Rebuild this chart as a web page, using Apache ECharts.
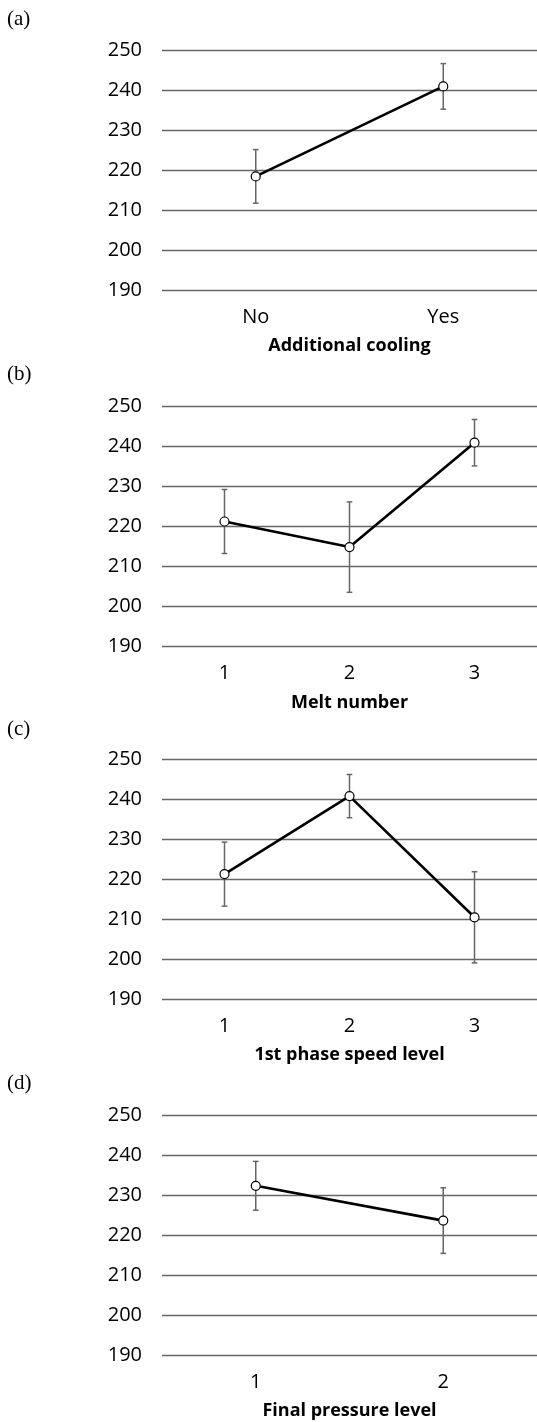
<!DOCTYPE html>
<html>
<head>
<meta charset="utf-8">
<script src="https://cdn.jsdelivr.net/npm/echarts@6/dist/echarts.min.js"></script>
<style>
  html, body { margin: 0; padding: 0; background: #fff; }
  #chart { width: 537px; height: 1422px; }
</style>
</head>
<body>
<div id="chart"></div>
<script>
// panel (a)
const catsA = ['No', 'Yes'];
const meanA = [218.4, 240.9];
const errA = [6.7, 5.7];
// panel (b)
const catsB = ['1', '2', '3'];
const meanB = [221.3, 214.9, 241.0];
const errB = [8.0, 11.3, 5.8];
// panel (c)
const catsC = ['1', '2', '3'];
const meanC = [221.3, 240.8, 210.5];
const errC = [8.0, 5.4, 11.4];
// panel (d)
const catsD = ['1', '2'];
const meanD = [232.3, 223.6];
const errD = [6.1, 8.2];

const panelLabels = ['(a)', '(b)', '(c)', '(d)'];
const axisNames = ['Additional cooling', 'Melt number', '1st phase speed level', 'Final pressure level'];

const panels = [
  { cats: catsA, mean: meanA, err: errA },
  { cats: catsB, mean: meanB, err: errB },
  { cats: catsC, mean: meanC, err: errC },
  { cats: catsD, mean: meanD, err: errD },
];

const gridTops = [50, 406.7, 759.3, 1115];
const labelTops = [9, 364, 719, 1073];
const font = '"Open Sans", "Noto Sans", sans-serif';

const grids = [], xAxes = [], yAxes = [], series = [], graphics = [];

panels.forEach((p, i) => {
  grids.push({ left: 162, width: 380, top: gridTops[i], height: 240 });
  xAxes.push({
    type: 'category',
    gridIndex: i,
    data: p.cats,
    boundaryGap: true,
    axisLine: { show: false },
    axisTick: { show: false },
    axisLabel: { color: '#000', fontFamily: font, fontSize: 20, margin: 17 },
    name: axisNames[i],
    nameLocation: 'middle',
    nameGap: 47,
    nameTextStyle: { color: '#000', fontFamily: font, fontSize: 18, fontWeight: 'bold' },
  });
  yAxes.push({
    type: 'value',
    gridIndex: i,
    min: 190,
    max: 250,
    interval: 10,
    axisLine: { show: false },
    axisTick: { show: false },
    axisLabel: { color: '#000', fontFamily: font, fontSize: 20, margin: 20 },
    splitLine: { lineStyle: { color: '#666', width: 1.3 } },
  });
  const errData = p.mean.map((m, k) => [k, m - p.err[k], m + p.err[k]]);
  series.push({
    type: 'custom',
    xAxisIndex: i,
    yAxisIndex: i,
    data: errData,
    z: 2,
    renderItem: (params, api) => {
      const lo = api.coord([api.value(0), api.value(1)]);
      const hi = api.coord([api.value(0), api.value(2)]);
      const cap = 2.8;
      const style = { stroke: '#666', lineWidth: 1.5 };
      return {
        type: 'group',
        children: [
          { type: 'line', shape: { x1: lo[0], y1: lo[1], x2: hi[0], y2: hi[1] }, style },
          { type: 'line', shape: { x1: lo[0] - cap, y1: lo[1], x2: lo[0] + cap, y2: lo[1] }, style },
          { type: 'line', shape: { x1: hi[0] - cap, y1: hi[1], x2: hi[0] + cap, y2: hi[1] }, style },
        ],
      };
    },
  });
  series.push({
    type: 'line',
    xAxisIndex: i,
    yAxisIndex: i,
    data: p.mean,
    z: 3,
    symbol: 'circle',
    symbolSize: 9,
    showSymbol: true,
    lineStyle: { color: '#000', width: 2.6 },
    itemStyle: { color: '#fff', borderColor: '#000', borderWidth: 1.2 },
  });
  graphics.push({
    type: 'text',
    left: 7,
    top: labelTops[i],
    style: { text: panelLabels[i], font: '21px "Liberation Serif", "DejaVu Serif", serif', fill: '#000' },
  });
});

const chart = echarts.init(document.getElementById('chart'));
chart.setOption({
  backgroundColor: '#fff',
  animation: false,
  grid: grids,
  xAxis: xAxes,
  yAxis: yAxes,
  series: series,
  graphic: graphics,
});
</script>
</body>
</html>
